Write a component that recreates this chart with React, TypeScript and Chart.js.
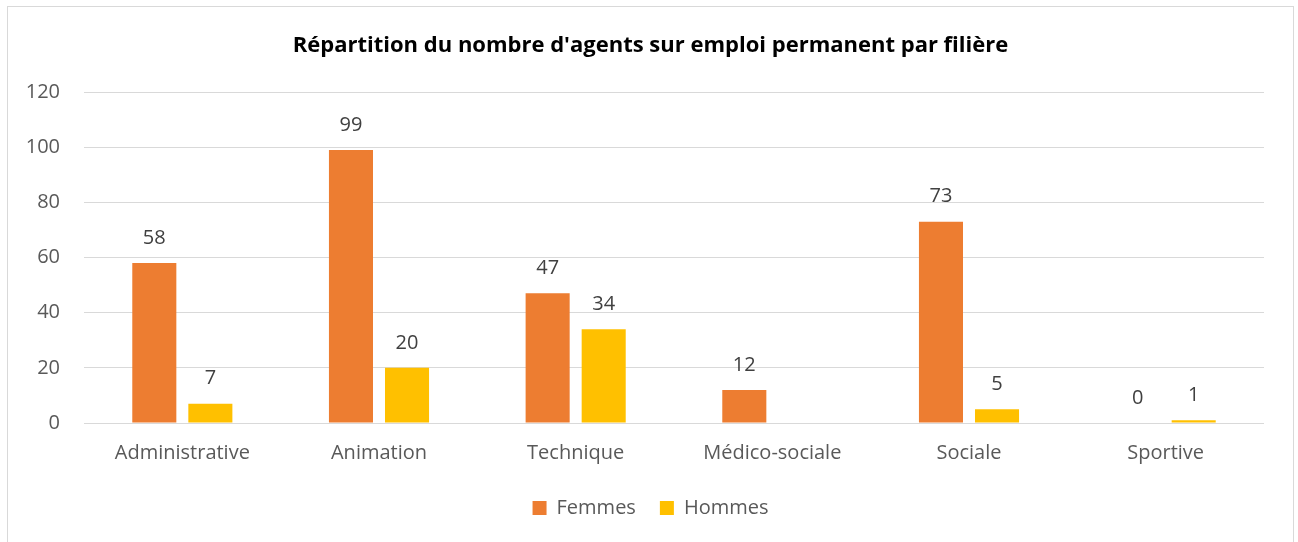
import React, { useEffect, useRef } from "react";
import { Chart, registerables } from "chart.js";

Chart.register(...registerables);

const categories = ["Administrative", "Animation", "Technique", "Médico-sociale", "Sociale", "Sportive"];
const femmes: (number | null)[] = [58, 99, 47, 12, 73, 0];
const hommes: (number | null)[] = [7, 20, 34, null, 5, 1];
const yTicks = [0, 20, 40, 60, 80, 100, 120];
const titleText = "Répartition du nombre d'agents sur emploi permanent par filière";

const FONT = "'Open Sans', 'Liberation Sans', sans-serif";

const valueLabels = {
  id: "valueLabels",
  afterDatasetsDraw(chart: any) {
    const ctx = chart.ctx;
    ctx.save();
    ctx.font = `20px ${FONT}`;
    ctx.fillStyle = "#404040";
    ctx.textAlign = "center";
    ctx.textBaseline = "middle";
    chart.data.datasets.forEach((ds: any, di: number) => {
      const meta = chart.getDatasetMeta(di);
      meta.data.forEach((el: any, i: number) => {
        const v = ds.data[i];
        if (v === null || v === undefined) return;
        ctx.fillText(String(v), el.x, el.y - 25);
      });
    });
    ctx.restore();
  },
};

export default function App() {
  const ref = useRef<HTMLCanvasElement>(null);
  useEffect(() => {
    if (!ref.current) return;
    const chart = new Chart(ref.current, {
      type: "bar",
      data: {
        labels: categories,
        datasets: [
          { label: "Femmes", data: femmes, backgroundColor: "#ED7D31", categoryPercentage: 0.57, barPercentage: 0.786 },
          { label: "Hommes", data: hommes, backgroundColor: "#FFC000", categoryPercentage: 0.57, barPercentage: 0.786 },
        ],
      },
      options: {
        animation: false,
        responsive: false,
        maintainAspectRatio: false,
        layout: { padding: { left: 0, right: 0, top: 0, bottom: 37 } },
        plugins: {
          title: {
            display: true,
            text: titleText,
            color: "#000000",
            font: { family: FONT, size: 22, weight: "bold", lineHeight: 1.2 },
            padding: { top: 25.5, bottom: 33.1 },
          },
          legend: {
            position: "bottom",
            labels: {
              boxWidth: 14,
              boxHeight: 14,
              padding: 24,
              color: "#595959",
              font: { family: FONT, size: 20 },
            },
          },
          tooltip: { enabled: false },
        },
        scales: {
          x: {
            grid: { display: false, drawTicks: false },
            border: { display: false },
            ticks: { color: "#595959", font: { family: FONT, size: 20, lineHeight: 1.2 }, padding: 18.5, maxRotation: 0 },
            afterFit: (s: any) => { s.height = 51; },
          },
          y: {
            min: 0,
            max: 120,
            afterBuildTicks: (s: any) => { s.ticks = yTicks.map((v) => ({ value: v })); },
            grid: { color: "#d9d9d9", lineWidth: 1, drawTicks: false },
            border: { display: false },
            ticks: { color: "#595959", font: { family: FONT, size: 20 }, padding: 24 },
            afterFit: (s: any) => { s.width = 76; },
          },
          yRightSpace: {
            type: "linear",
            position: "right",
            min: 0,
            max: 120,
            grid: { display: false, drawTicks: false },
            border: { display: false },
            ticks: { display: false },
            afterFit: (s: any) => { s.width = 29; },
          },
        },
      },
      plugins: [valueLabels],
    });
    return () => chart.destroy();
  }, []);

  return (
    <div
      style={{
        position: "fixed",
        left: 7,
        top: 6,
        width: 1287,
        height: 560,
        border: "1px solid #d9d9d9",
        boxSizing: "border-box",
        background: "#ffffff",
      }}
    >
      <canvas ref={ref} width={1285} height={558} style={{ display: "block", width: 1285, height: 558 }} />
    </div>
  );
}
